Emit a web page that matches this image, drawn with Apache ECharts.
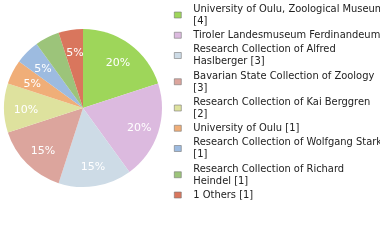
<!DOCTYPE html>
<html><head><meta charset="utf-8">
<script src="https://cdn.jsdelivr.net/npm/echarts@6/dist/echarts.min.js"></script>
<style>html,body{margin:0;padding:0;background:#fff}#c{width:380px;height:240px}</style>
</head><body><div id="c"></div>
<script>
const categories = [
  "University of Oulu, Zoological Museum\n[4]",
  "Tiroler Landesmuseum Ferdinandeum [4]",
  "Research Collection of Alfred\nHaslberger [3]",
  "Bavarian State Collection of Zoology\n[3]",
  "Research Collection of Kai Berggren\n[2]",
  "University of Oulu [1]",
  "Research Collection of Wolfgang Stark\n[1]",
  "Research Collection of Richard\nHeindel [1]",
  "1 Others [1]"
];
const values = [4, 4, 3, 3, 2, 1, 1, 1, 1];
const colors = ["#9ed65a", "#dcbadf", "#cddbe6", "#dca59d", "#dee29e", "#f0ae78", "#9dbbe0", "#9cc47a", "#d9765d"];

const total = values.reduce((a, b) => a + b, 0);
const data = categories.map((n, i) => ({ name: n, value: values[i], itemStyle: { color: colors[i] } }));

const chart = echarts.init(document.getElementById('c'), null, { renderer: 'canvas' });
chart.setOption({
  animation: false,
  legend: {
    orient: 'vertical', left: 169, top: -2, itemWidth: 7, itemHeight: 6, itemGap: 2.25,
    icon: 'rect', selectedMode: false,
    itemStyle: { borderColor: '#777', borderWidth: 0.6 },
    textStyle: { fontFamily: 'DejaVu Sans Condensed', fontSize: 11, color: '#222', lineHeight: 12, padding: [0, 0, 0, 7] },
    data: categories
  },
  series: [{
    type: 'pie', center: [83, 108], radius: [0, 79], startAngle: 90, clockwise: true,
    label: { show: false }, labelLine: { show: false }, silent: true, data: data
  }, {
    type: 'pie', center: [84, 110], radius: [0, 110], startAngle: 90, clockwise: true, silent: true,
    itemStyle: { color: 'transparent', borderWidth: 0 },
    label: { show: true, position: 'inside', color: '#fff', fontFamily: 'DejaVu Sans', fontSize: 11,
      formatter: p => Math.round(p.value / total * 100) + '%' },
    labelLine: { show: false },
    data: categories.map((n, i) => ({ name: n, value: values[i], itemStyle: { color: 'transparent' } }))
  }]
});
</script></body></html>
